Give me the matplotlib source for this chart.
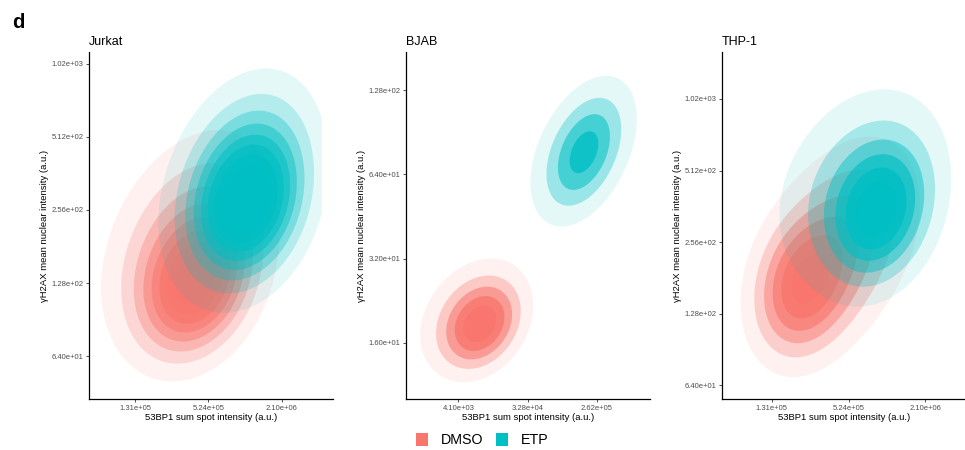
import numpy             as np
import matplotlib.pyplot as plt
from matplotlib.patches import Patch

plt.rcParams['font.family'] = ['Liberation Sans', 'DejaVu Sans']

# group colours (ggplot defaults)
groups = ["DMSO", "ETP"]
colors = {"DMSO": "#F8766D", "ETP": "#00BFC4"}

panels = ["Jurkat", "BJAB", "THP-1"]

# data range of each panel, log2 units (x = 53BP1, y = gH2AX)
jurkat_xrange = [16.05, 22.09]
jurkat_yrange = [5.63, 9.945]
bjab_xrange   = [10.21, 19.82]
bjab_yrange   = [3.52, 7.264]
thp1_xrange   = [15.99, 21.77]
thp1_yrange   = [6.03, 10.436]

# density components, log2 units:
# (mean x, mean y, sd x, sd y, correlation, weight)
jurkat_dmso = [(18.70, 6.95, 0.95, 0.60, 0.25, 0.45),
               (18.45, 7.60, 1.45, 0.95, 0.35, 0.55)]
jurkat_etp  = [(20.10, 8.05, 0.90, 0.62, 0.20, 0.40),
               (19.90, 8.35, 1.25, 0.90, 0.30, 0.60)]
bjab_dmso   = [(13.0, 4.20, 1.05, 0.32, 0.25, 0.45),
               (12.6, 4.33, 1.70, 0.50, 0.30, 0.55)]
bjab_etp    = [(17.45, 6.25, 1.05, 0.43, 0.40, 0.40),
               (17.40, 6.30, 1.80, 0.66, 0.45, 0.60)]
thp1_dmso   = [(17.75, 7.35, 0.80, 0.62, 0.20, 0.35),
               (18.85, 8.00, 1.25, 0.92, 0.35, 0.65)]
thp1_etp    = [(19.80, 8.40, 0.85, 0.62, 0.20, 0.45),
               (19.20, 8.80, 1.55, 1.00, 0.30, 0.55)]

# number of contour bins per panel
jurkat_bins = 10
bjab_bins   = 6
thp1_bins   = 7

# tick positions (log2) 
jurkat_xticks = [17, 19, 21]
jurkat_yticks = [6, 7, 8, 9, 10]
bjab_xticks   = [12, 15, 18]
bjab_yticks   = [4, 5, 6, 7]
thp1_xticks   = [17, 19, 21]
thp1_yticks   = [6, 7, 8, 9, 10]

xlabel = "53BP1 sum spot intensity (a.u.)"
ylabel = "\u03b3H2AX mean nuclear intensity (a.u.)"

setup = {
    "Jurkat": (jurkat_xrange, jurkat_yrange, {"DMSO": jurkat_dmso, "ETP": jurkat_etp},
               jurkat_bins, jurkat_xticks, jurkat_yticks),
    "BJAB":   (bjab_xrange, bjab_yrange, {"DMSO": bjab_dmso, "ETP": bjab_etp},
               bjab_bins, bjab_xticks, bjab_yticks),
    "THP-1":  (thp1_xrange, thp1_yrange, {"DMSO": thp1_dmso, "ETP": thp1_etp},
               thp1_bins, thp1_xticks, thp1_yticks),
}


# Mixture density on a grid
def density(LX, LY, comps):
    z = np.zeros_like(LX)
    for mx, my, sx, sy, r, w in comps:
        dx = (LX - mx) / sx
        dy = (LY - my) / sy
        q = (dx**2 - 2*r*dx*dy + dy**2) / (1 - r**2)
        z += w * np.exp(-0.5*q) / (2*np.pi*sx*sy*np.sqrt(1 - r**2))
    return z


fig = plt.figure(figsize=(9.65, 4.5), dpi=100)

W, H = 965.0, 450.0
lefts = [89, 406, 722]
width = 244
bottom, top = 399, 52

for k, name in enumerate(panels):
    xr, yr, comps, nbins, xt, yt = setup[name]
    ax = fig.add_axes([lefts[k]/W, 1 - bottom/H, width/W, (bottom - top)/H])

    gx = np.linspace(xr[0], xr[1], 300)
    gy = np.linspace(yr[0], yr[1], 300)
    LX, LY = np.meshgrid(gx, gy)
    X, Y = 2.0**LX, 2.0**LY

    Z = {g: density(LX, LY, comps[g]) for g in groups}
    zmax = max(Z[g].max() for g in groups)
    step = zmax / nbins
    breaks = step * np.arange(1, nbins + 1)
    breaks = breaks[breaks < zmax*0.999]
    lo, hi = breaks[0], breaks[-1]

    for g in groups:
        for b in breaks:
            if Z[g].max() <= b:
                continue
            a = min(1.0, 0.1 + 0.9*(b - lo)/(hi - lo))
            ax.contourf(X, Y, Z[g], levels=[b, zmax*10], colors=[colors[g]],
                        alpha=a, antialiased=True)

    ax.set_xscale('log', base=2)
    ax.set_yscale('log', base=2)
    dx = 0.05*(xr[1] - xr[0])
    dy = 0.05*(yr[1] - yr[0])
    ax.set_xlim(2.0**(xr[0] - dx), 2.0**(xr[1] + dx))
    ax.set_ylim(2.0**(yr[0] - dy), 2.0**(yr[1] + dy))

    ax.set_xticks([2.0**v for v in xt])
    ax.set_xticklabels(["%.2e" % 2.0**v for v in xt])
    ax.set_yticks([2.0**v for v in yt])
    ax.set_yticklabels(["%.2e" % 2.0**v for v in yt])
    ax.minorticks_off()
    ax.tick_params(labelsize=5.5, labelcolor="#4d4d4d", color="#333333",
                   length=2.5, width=0.6, pad=1.5)

    for s in ["top", "right"]:
        ax.spines[s].set_visible(False)
    for s in ["left", "bottom"]:
        ax.spines[s].set_linewidth(0.9)
        ax.spines[s].set_color("black")

    ax.set_xlabel(xlabel, fontsize=6.8, labelpad=1)
    ax.set_ylabel(ylabel, fontsize=6.8, labelpad=2)
    ax.set_title(name, fontsize=9, loc="left", pad=5)

fig.text(12/W, 1 - 22/H, "d", fontsize=14.5, fontweight="bold", va="center", ha="left")

handles = [Patch(facecolor=colors[g], edgecolor="none", label=g) for g in groups]
fig.legend(handles=handles, loc="center", bbox_to_anchor=(0.5, 1 - 440/H), ncol=2,
           frameon=False, fontsize=10.3, handlelength=0.85, handleheight=1.0,
           handletextpad=0.9, columnspacing=0.9)

plt.savefig("out.png", dpi=100)
